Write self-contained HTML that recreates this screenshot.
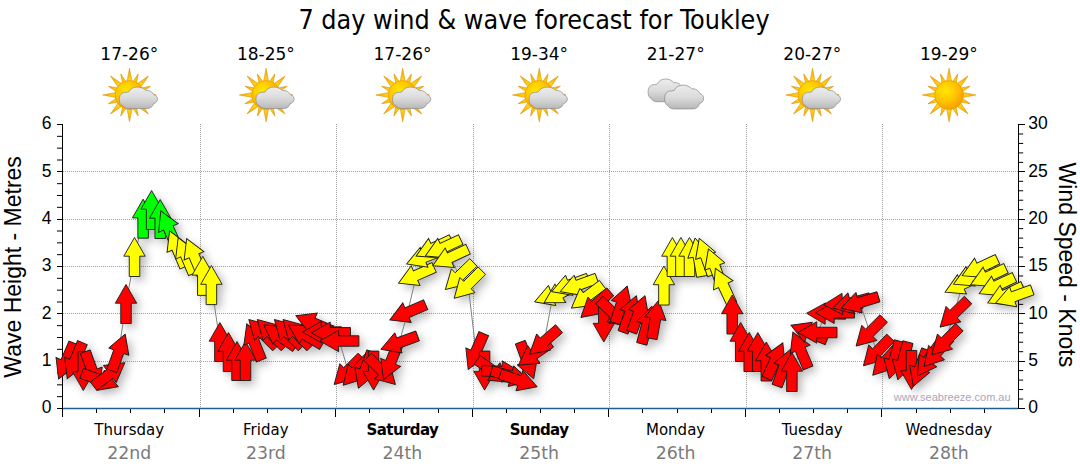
<!DOCTYPE html><html><head><meta charset="utf-8"><title>7 day wind &amp; wave forecast for Toukley</title><style>
html,body{margin:0;padding:0;background:#fff;}body{width:1080px;height:475px;overflow:hidden;position:relative;}svg{display:block;position:absolute;left:0;top:0;}.t{font-family:"DejaVu Sans Condensed","DejaVu Sans",sans-serif;}.a{font-family:"Liberation Sans",Arial,sans-serif;}.v{font-family:"DejaVu Sans",Verdana,sans-serif;}
</style></head><body>
<svg width="1080" height="475" viewBox="0 0 1080 475">
<defs>
<filter id="sh" x="-20%" y="-20%" width="140%" height="140%"><feGaussianBlur in="SourceAlpha" stdDeviation="5"/><feOffset dx="4" dy="4" result="o"/><feComponentTransfer><feFuncA type="linear" slope="0.3"/></feComponentTransfer></filter>
<radialGradient id="sunG" cx="0.38" cy="0.35" r="0.75"><stop offset="0" stop-color="#ffe800"/><stop offset="0.5" stop-color="#ffc400"/><stop offset="1" stop-color="#f39400"/></radialGradient>
<linearGradient id="rayG" x1="0" y1="0" x2="0" y2="1"><stop offset="0" stop-color="#f4a400"/><stop offset="0.6" stop-color="#ffc810"/><stop offset="1" stop-color="#ffdc30"/></linearGradient>
<linearGradient id="cloudG" x1="0" y1="0" x2="0" y2="1"><stop offset="0" stop-color="#ededed"/><stop offset="0.5" stop-color="#dcdcdc"/><stop offset="1" stop-color="#b8b8b8"/></linearGradient>
<path id="arr" d="M0,-19.5L10.7,-0.8L5.25,-0.8L5.25,19.5L-5.25,19.5L-5.25,-0.8L-10.7,-0.8Z"/>

<g id="sun"><g fill="url(#rayG)" stroke="#d89200" stroke-width="0.55" stroke-linejoin="round"><path d="M-2.9,-11.5 L0,-26.8 L2.9,-11.5Z" transform="rotate(0.0)"/><path d="M-2.4,-11.5 L0,-22.8 L2.4,-11.5Z" transform="rotate(22.5)"/><path d="M-2.9,-11.5 L0,-26.8 L2.9,-11.5Z" transform="rotate(45.0)"/><path d="M-2.4,-11.5 L0,-22.8 L2.4,-11.5Z" transform="rotate(67.5)"/><path d="M-2.9,-11.5 L0,-26.8 L2.9,-11.5Z" transform="rotate(90.0)"/><path d="M-2.4,-11.5 L0,-22.8 L2.4,-11.5Z" transform="rotate(112.5)"/><path d="M-2.9,-11.5 L0,-26.8 L2.9,-11.5Z" transform="rotate(135.0)"/><path d="M-2.4,-11.5 L0,-22.8 L2.4,-11.5Z" transform="rotate(157.5)"/><path d="M-2.9,-11.5 L0,-26.8 L2.9,-11.5Z" transform="rotate(180.0)"/><path d="M-2.4,-11.5 L0,-22.8 L2.4,-11.5Z" transform="rotate(202.5)"/><path d="M-2.9,-11.5 L0,-26.8 L2.9,-11.5Z" transform="rotate(225.0)"/><path d="M-2.4,-11.5 L0,-22.8 L2.4,-11.5Z" transform="rotate(247.5)"/><path d="M-2.9,-11.5 L0,-26.8 L2.9,-11.5Z" transform="rotate(270.0)"/><path d="M-2.4,-11.5 L0,-22.8 L2.4,-11.5Z" transform="rotate(292.5)"/><path d="M-2.9,-11.5 L0,-26.8 L2.9,-11.5Z" transform="rotate(315.0)"/><path d="M-2.4,-11.5 L0,-22.8 L2.4,-11.5Z" transform="rotate(337.5)"/></g><circle r="14.4" fill="url(#sunG)" stroke="#e89c00" stroke-width="0.7"/></g>
<path id="cloud" d="M0,15.1 C-0.3,12 0.2,9.6 1.5,8 C2.6,6.5 4.5,5.8 6.8,5.8 C7.8,5.8 8.8,5.6 9.5,5.2 C11,1.8 14.5,0 18.2,0 C22,0 25.3,1.6 27,3.8 C30.5,3.2 34,5.4 35.2,8.4 C37.6,9 39.2,11.5 38.9,13.8 C38.6,16.2 36.8,18 34.8,18.4 C34.2,21.5 31.5,23.8 28.3,23.8 L9.5,23.8 C6.5,23.8 4.2,22.5 3.5,20.6 C1.3,19.8 0.1,17.6 0,15.1 Z" fill="url(#cloudG)" stroke="#8c8c8c" stroke-width="0.75"/>
</defs>
<text class="t" x="534" y="29.0" font-size="26.7" text-anchor="middle" fill="#000" textLength="471.2" lengthAdjust="spacingAndGlyphs">7 day wind &amp; wave forecast for Toukley</text>
<text class="v" x="129.3" y="59.7" font-size="17" text-anchor="middle" fill="#000">17-26°</text>
<use href="#sun" transform="translate(129.5,95)"/>
<use href="#cloud" transform="translate(119.4,87.1) scale(0.98,0.9)"/>
<text class="v" x="129.2" y="434.8" font-size="15" text-anchor="middle" fill="#000">Thursday</text>
<text class="v" x="129.2" y="458.6" font-size="17.3" text-anchor="middle" fill="#7a7a7a">22nd</text>
<text class="v" x="265.9" y="59.7" font-size="17" text-anchor="middle" fill="#000">18-25°</text>
<use href="#sun" transform="translate(266.1,95)"/>
<use href="#cloud" transform="translate(256,87.1) scale(0.98,0.9)"/>
<text class="v" x="265.8" y="434.8" font-size="15" text-anchor="middle" fill="#000">Friday</text>
<text class="v" x="265.8" y="458.6" font-size="17.3" text-anchor="middle" fill="#7a7a7a">23rd</text>
<text class="v" x="402.5" y="59.7" font-size="17" text-anchor="middle" fill="#000">17-26°</text>
<use href="#sun" transform="translate(402.7,95)"/>
<use href="#cloud" transform="translate(392.6,87.1) scale(0.98,0.9)"/>
<text class="v" x="402.4" y="434.8" font-size="15" text-anchor="middle" fill="#000" font-weight="bold" letter-spacing="-0.6">Saturday</text>
<text class="v" x="402.4" y="458.6" font-size="17.3" text-anchor="middle" fill="#7a7a7a">24th</text>
<text class="v" x="539.1" y="59.7" font-size="17" text-anchor="middle" fill="#000">19-34°</text>
<use href="#sun" transform="translate(539.3,95)"/>
<use href="#cloud" transform="translate(529.2,87.1) scale(0.98,0.9)"/>
<text class="v" x="539" y="434.8" font-size="15" text-anchor="middle" fill="#000" font-weight="bold" letter-spacing="-0.6">Sunday</text>
<text class="v" x="539" y="458.6" font-size="17.3" text-anchor="middle" fill="#7a7a7a">25th</text>
<text class="v" x="675.7" y="59.7" font-size="17" text-anchor="middle" fill="#000">21-27°</text>
<use href="#cloud" transform="translate(648.2,79) scale(0.95,0.955)"/>
<use href="#cloud" transform="translate(664.7,85.1)"/>
<text class="v" x="675.6" y="434.8" font-size="15" text-anchor="middle" fill="#000">Monday</text>
<text class="v" x="675.6" y="458.6" font-size="17.3" text-anchor="middle" fill="#7a7a7a">26th</text>
<text class="v" x="812.3" y="59.7" font-size="17" text-anchor="middle" fill="#000">20-27°</text>
<use href="#sun" transform="translate(812.5,95)"/>
<use href="#cloud" transform="translate(802.4,87.1) scale(0.98,0.9)"/>
<text class="v" x="812.2" y="434.8" font-size="15" text-anchor="middle" fill="#000">Tuesday</text>
<text class="v" x="812.2" y="458.6" font-size="17.3" text-anchor="middle" fill="#7a7a7a">27th</text>
<text class="v" x="948.9" y="59.7" font-size="17" text-anchor="middle" fill="#000">19-29°</text>
<use href="#sun" transform="translate(949.1,95)"/>
<text class="v" x="948.8" y="434.8" font-size="15" text-anchor="middle" fill="#000">Wednesday</text>
<text class="v" x="948.8" y="458.6" font-size="17.3" text-anchor="middle" fill="#7a7a7a">28th</text>
<g stroke="#a0a0a0" stroke-width="1" stroke-dasharray="1 1" shape-rendering="crispEdges"><line x1="63" y1="361.5" x2="1018" y2="361.5"/><line x1="63" y1="313.5" x2="1018" y2="313.5"/><line x1="63" y1="266.5" x2="1018" y2="266.5"/><line x1="63" y1="219.5" x2="1018" y2="219.5"/><line x1="63" y1="171.5" x2="1018" y2="171.5"/><line x1="200.5" y1="124" x2="200.5" y2="408"/><line x1="336.5" y1="124" x2="336.5" y2="408"/><line x1="473.5" y1="124" x2="473.5" y2="408"/><line x1="609.5" y1="124" x2="609.5" y2="408"/><line x1="746.5" y1="124" x2="746.5" y2="408"/><line x1="882.5" y1="124" x2="882.5" y2="408"/></g>
<text class="a" x="1010.6" y="400.6" font-size="11" text-anchor="end" fill="#a9a6b8">www.seabreeze.com.au</text>
<g stroke="#000" stroke-width="1" shape-rendering="crispEdges"><line x1="62.5" y1="124" x2="62.5" y2="417"/><line x1="1018.5" y1="124" x2="1018.5" y2="408.5"/><line x1="57" y1="408.5" x2="62" y2="408.5"/><line x1="57" y1="361.5" x2="62" y2="361.5"/><line x1="57" y1="313.5" x2="62" y2="313.5"/><line x1="57" y1="266.5" x2="62" y2="266.5"/><line x1="57" y1="219.5" x2="62" y2="219.5"/><line x1="57" y1="171.5" x2="62" y2="171.5"/><line x1="57" y1="124.5" x2="62" y2="124.5"/><line x1="1019" y1="408.5" x2="1024.5" y2="408.5"/><line x1="1019" y1="361.5" x2="1024.5" y2="361.5"/><line x1="1019" y1="313.5" x2="1024.5" y2="313.5"/><line x1="1019" y1="266.5" x2="1024.5" y2="266.5"/><line x1="1019" y1="219.5" x2="1024.5" y2="219.5"/><line x1="1019" y1="171.5" x2="1024.5" y2="171.5"/><line x1="1019" y1="124.5" x2="1024.5" y2="124.5"/><line x1="96.5" y1="408" x2="96.5" y2="413"/><line x1="130.5" y1="408" x2="130.5" y2="413"/><line x1="164.5" y1="408" x2="164.5" y2="413"/><line x1="199.5" y1="408" x2="199.5" y2="417"/><line x1="233.5" y1="408" x2="233.5" y2="413"/><line x1="267.5" y1="408" x2="267.5" y2="413"/><line x1="301.5" y1="408" x2="301.5" y2="413"/><line x1="335.5" y1="408" x2="335.5" y2="417"/><line x1="369.5" y1="408" x2="369.5" y2="413"/><line x1="403.5" y1="408" x2="403.5" y2="413"/><line x1="438.5" y1="408" x2="438.5" y2="413"/><line x1="472.5" y1="408" x2="472.5" y2="417"/><line x1="506.5" y1="408" x2="506.5" y2="413"/><line x1="540.5" y1="408" x2="540.5" y2="413"/><line x1="574.5" y1="408" x2="574.5" y2="413"/><line x1="608.5" y1="408" x2="608.5" y2="417"/><line x1="642.5" y1="408" x2="642.5" y2="413"/><line x1="677.5" y1="408" x2="677.5" y2="413"/><line x1="711.5" y1="408" x2="711.5" y2="413"/><line x1="745.5" y1="408" x2="745.5" y2="417"/><line x1="779.5" y1="408" x2="779.5" y2="413"/><line x1="813.5" y1="408" x2="813.5" y2="413"/><line x1="847.5" y1="408" x2="847.5" y2="413"/><line x1="881.5" y1="408" x2="881.5" y2="417"/><line x1="916.5" y1="408" x2="916.5" y2="413"/><line x1="950.5" y1="408" x2="950.5" y2="413"/><line x1="984.5" y1="408" x2="984.5" y2="413"/></g>
<g stroke="#000" stroke-width="1"><line x1="57" y1="396.67" x2="62" y2="396.67"/><line x1="57" y1="384.83" x2="62" y2="384.83"/><line x1="57" y1="373" x2="62" y2="373"/><line x1="57" y1="349.33" x2="62" y2="349.33"/><line x1="57" y1="337.5" x2="62" y2="337.5"/><line x1="57" y1="325.67" x2="62" y2="325.67"/><line x1="57" y1="302" x2="62" y2="302"/><line x1="57" y1="290.17" x2="62" y2="290.17"/><line x1="57" y1="278.33" x2="62" y2="278.33"/><line x1="57" y1="254.67" x2="62" y2="254.67"/><line x1="57" y1="242.83" x2="62" y2="242.83"/><line x1="57" y1="231" x2="62" y2="231"/><line x1="57" y1="207.33" x2="62" y2="207.33"/><line x1="57" y1="195.5" x2="62" y2="195.5"/><line x1="57" y1="183.67" x2="62" y2="183.67"/><line x1="57" y1="160" x2="62" y2="160"/><line x1="57" y1="148.17" x2="62" y2="148.17"/><line x1="57" y1="136.33" x2="62" y2="136.33"/><line x1="1019" y1="399.03" x2="1023.2" y2="399.03"/><line x1="1019" y1="389.57" x2="1023.2" y2="389.57"/><line x1="1019" y1="380.1" x2="1023.2" y2="380.1"/><line x1="1019" y1="370.63" x2="1023.2" y2="370.63"/><line x1="1019" y1="351.7" x2="1023.2" y2="351.7"/><line x1="1019" y1="342.23" x2="1023.2" y2="342.23"/><line x1="1019" y1="332.77" x2="1023.2" y2="332.77"/><line x1="1019" y1="323.3" x2="1023.2" y2="323.3"/><line x1="1019" y1="304.37" x2="1023.2" y2="304.37"/><line x1="1019" y1="294.9" x2="1023.2" y2="294.9"/><line x1="1019" y1="285.43" x2="1023.2" y2="285.43"/><line x1="1019" y1="275.97" x2="1023.2" y2="275.97"/><line x1="1019" y1="257.03" x2="1023.2" y2="257.03"/><line x1="1019" y1="247.57" x2="1023.2" y2="247.57"/><line x1="1019" y1="238.1" x2="1023.2" y2="238.1"/><line x1="1019" y1="228.63" x2="1023.2" y2="228.63"/><line x1="1019" y1="209.7" x2="1023.2" y2="209.7"/><line x1="1019" y1="200.23" x2="1023.2" y2="200.23"/><line x1="1019" y1="190.77" x2="1023.2" y2="190.77"/><line x1="1019" y1="181.3" x2="1023.2" y2="181.3"/><line x1="1019" y1="162.37" x2="1023.2" y2="162.37"/><line x1="1019" y1="152.9" x2="1023.2" y2="152.9"/><line x1="1019" y1="143.43" x2="1023.2" y2="143.43"/><line x1="1019" y1="133.97" x2="1023.2" y2="133.97"/></g>
<line x1="63" y1="408.5" x2="1018" y2="408.5" stroke="#1f5f8f" stroke-width="1.3"/>
<text class="a" x="51.5" y="413.2" font-size="17.5" text-anchor="end">0</text>
<text class="a" x="51.5" y="365.87" font-size="17.5" text-anchor="end">1</text>
<text class="a" x="51.5" y="318.53" font-size="17.5" text-anchor="end">2</text>
<text class="a" x="51.5" y="271.2" font-size="17.5" text-anchor="end">3</text>
<text class="a" x="51.5" y="223.87" font-size="17.5" text-anchor="end">4</text>
<text class="a" x="51.5" y="176.53" font-size="17.5" text-anchor="end">5</text>
<text class="a" x="51.5" y="129.2" font-size="17.5" text-anchor="end">6</text>
<text class="a" x="1028.2" y="413.2" font-size="17.5">0</text>
<text class="a" x="1028.2" y="365.87" font-size="17.5">5</text>
<text class="a" x="1028.2" y="318.53" font-size="17.5">10</text>
<text class="a" x="1028.2" y="271.2" font-size="17.5">15</text>
<text class="a" x="1028.2" y="223.87" font-size="17.5">20</text>
<text class="a" x="1028.2" y="176.53" font-size="17.5">25</text>
<text class="a" x="1028.2" y="129.2" font-size="17.5">30</text>
<text class="a" transform="translate(20.8,377.7) rotate(-90)" font-size="23">Wave Height - Metres</text>
<text class="a" transform="translate(1059.4,162.6) rotate(90)" font-size="23">Wind Speed - Knots</text>
<g filter="url(#sh)"><use href="#arr" fill="#ff0000" transform="translate(66.2,361) rotate(203)"/><use href="#arr" fill="#ff0000" transform="translate(74.8,360.6) rotate(203)"/><use href="#arr" fill="#ff0000" transform="translate(83.3,371) rotate(180)"/><use href="#arr" fill="#ff0000" transform="translate(91.9,370) rotate(160)"/><use href="#arr" fill="#ff0000" transform="translate(100,380) rotate(110)"/><use href="#arr" fill="#ff0000" transform="translate(109.2,374.5) rotate(53)"/><use href="#arr" fill="#ff0000" transform="translate(118.5,352.4) rotate(20)"/><use href="#arr" fill="#ff0000" transform="translate(126,304) rotate(0)"/><use href="#arr" fill="#ffff00" transform="translate(134.5,257) rotate(0)"/><use href="#arr" fill="#00ff00" transform="translate(143.1,218.7) rotate(0)"/><use href="#arr" fill="#00ff00" transform="translate(151.6,210) rotate(0)"/><use href="#arr" fill="#00ff00" transform="translate(160.2,219) rotate(0)"/><use href="#arr" fill="#00ff00" transform="translate(168.7,228.7) rotate(336)"/><use href="#arr" fill="#ffff00" transform="translate(177.2,248.9) rotate(337)"/><use href="#arr" fill="#ffff00" transform="translate(185.8,255.6) rotate(337)"/><use href="#arr" fill="#ffff00" transform="translate(194.3,256.5) rotate(337)"/><use href="#arr" fill="#ffff00" transform="translate(202.8,275.9) rotate(0)"/><use href="#arr" fill="#ffff00" transform="translate(211.4,285.1) rotate(0)"/><use href="#arr" fill="#ff0000" transform="translate(219.9,342) rotate(0)"/><use href="#arr" fill="#ff0000" transform="translate(228.5,352.1) rotate(0)"/><use href="#arr" fill="#ff0000" transform="translate(237,361) rotate(0)"/><use href="#arr" fill="#ff0000" transform="translate(245.5,361) rotate(0)"/><use href="#arr" fill="#ff0000" transform="translate(254.1,341.9) rotate(338)"/><use href="#arr" fill="#ff0000" transform="translate(262.6,333.3) rotate(315)"/><use href="#arr" fill="#ff0000" transform="translate(271.1,333.3) rotate(315)"/><use href="#arr" fill="#ff0000" transform="translate(279.7,336) rotate(305)"/><use href="#arr" fill="#ff0000" transform="translate(288.2,333.3) rotate(315)"/><use href="#arr" fill="#ff0000" transform="translate(296.8,333.3) rotate(315)"/><use href="#arr" fill="#ff0000" transform="translate(305.3,335) rotate(300)"/><use href="#arr" fill="#ff0000" transform="translate(313.8,323.3) rotate(293)"/><use href="#arr" fill="#ff0000" transform="translate(322.1,332.1) rotate(270)"/><use href="#arr" fill="#ff0000" transform="translate(331,332.8) rotate(270)"/><use href="#arr" fill="#ff0000" transform="translate(339.4,341) rotate(270)"/><use href="#arr" fill="#ff0000" transform="translate(348,370.7) rotate(225)"/><use href="#arr" fill="#ff0000" transform="translate(356.5,371) rotate(223)"/><use href="#arr" fill="#ff0000" transform="translate(365.1,370) rotate(200)"/><use href="#arr" fill="#ff0000" transform="translate(373.6,370.6) rotate(180)"/><use href="#arr" fill="#ff0000" transform="translate(381.6,370.7) rotate(135)"/><use href="#arr" fill="#ff0000" transform="translate(390.9,361.6) rotate(202)"/><use href="#arr" fill="#ff0000" transform="translate(399.2,342.6) rotate(250)"/><use href="#arr" fill="#ff0000" transform="translate(407.7,312.4) rotate(247)"/><use href="#arr" fill="#ffff00" transform="translate(416.3,275.3) rotate(246)"/><use href="#arr" fill="#ffff00" transform="translate(424.8,257) rotate(249)"/><use href="#arr" fill="#ffff00" transform="translate(433.8,247.8) rotate(245)"/><use href="#arr" fill="#ffff00" transform="translate(443,247.8) rotate(245)"/><use href="#arr" fill="#ffff00" transform="translate(450.4,257.4) rotate(245)"/><use href="#arr" fill="#ffff00" transform="translate(459.4,276) rotate(226)"/><use href="#arr" fill="#ffff00" transform="translate(468,284.5) rotate(225)"/><use href="#arr" fill="#ff0000" transform="translate(476,351.6) rotate(203.5)"/><use href="#arr" fill="#ff0000" transform="translate(484.6,370.6) rotate(180)"/><use href="#arr" fill="#ff0000" transform="translate(493.1,371) rotate(125)"/><use href="#arr" fill="#ff0000" transform="translate(501.2,371.5) rotate(92)"/><use href="#arr" fill="#ff0000" transform="translate(510.2,376) rotate(105)"/><use href="#arr" fill="#ff0000" transform="translate(518.7,380.4) rotate(109)"/><use href="#arr" fill="#ff0000" transform="translate(527,360.5) rotate(160)"/><use href="#arr" fill="#ff0000" transform="translate(534.5,354) rotate(235)"/><use href="#arr" fill="#ff0000" transform="translate(544.3,341.5) rotate(229)"/><use href="#arr" fill="#ffff00" transform="translate(552.9,295.2) rotate(250)"/><use href="#arr" fill="#ffff00" transform="translate(561,293) rotate(240)"/><use href="#arr" fill="#ffff00" transform="translate(570,285) rotate(250)"/><use href="#arr" fill="#ffff00" transform="translate(578.5,285) rotate(250)"/><use href="#arr" fill="#ffff00" transform="translate(587,296.4) rotate(233)"/><use href="#arr" fill="#ff0000" transform="translate(595.6,304.7) rotate(229)"/><use href="#arr" fill="#ff0000" transform="translate(603.8,322.5) rotate(180)"/><use href="#arr" fill="#ff0000" transform="translate(613.5,313.4) rotate(133)"/><use href="#arr" fill="#ff0000" transform="translate(621.2,304.5) rotate(18)"/><use href="#arr" fill="#ff0000" transform="translate(629.7,314) rotate(20)"/><use href="#arr" fill="#ff0000" transform="translate(638.3,314) rotate(20)"/><use href="#arr" fill="#ff0000" transform="translate(646.8,325) rotate(15)"/><use href="#arr" fill="#ff0000" transform="translate(655.3,319.5) rotate(10)"/><use href="#arr" fill="#ffff00" transform="translate(663.9,285.5) rotate(0)"/><use href="#arr" fill="#ffff00" transform="translate(672.4,257) rotate(0)"/><use href="#arr" fill="#ffff00" transform="translate(680.9,257) rotate(0)"/><use href="#arr" fill="#ffff00" transform="translate(689.5,257) rotate(0)"/><use href="#arr" fill="#ffff00" transform="translate(698.5,257.2) rotate(350)"/><use href="#arr" fill="#ffff00" transform="translate(705.9,256.6) rotate(340)"/><use href="#arr" fill="#ffff00" transform="translate(715.1,267.2) rotate(340)"/><use href="#arr" fill="#ffff00" transform="translate(723.6,286) rotate(335)"/><use href="#arr" fill="#ff0000" transform="translate(732.2,314.5) rotate(0)"/><use href="#arr" fill="#ff0000" transform="translate(740.7,342) rotate(0)"/><use href="#arr" fill="#ff0000" transform="translate(749.2,352) rotate(0)"/><use href="#arr" fill="#ff0000" transform="translate(757.8,352) rotate(0)"/><use href="#arr" fill="#ff0000" transform="translate(766.3,361.5) rotate(0)"/><use href="#arr" fill="#ff0000" transform="translate(774.9,360.6) rotate(24)"/><use href="#arr" fill="#ff0000" transform="translate(783.7,367.7) rotate(20)"/><use href="#arr" fill="#ff0000" transform="translate(791.9,372) rotate(0)"/><use href="#arr" fill="#ff0000" transform="translate(800.5,350) rotate(337)"/><use href="#arr" fill="#ff0000" transform="translate(809,332.5) rotate(292)"/><use href="#arr" fill="#ff0000" transform="translate(817.5,332.5) rotate(270)"/><use href="#arr" fill="#ff0000" transform="translate(826.1,313.6) rotate(271)"/><use href="#arr" fill="#ff0000" transform="translate(835,312.8) rotate(270)"/><use href="#arr" fill="#ff0000" transform="translate(843.2,304) rotate(268)"/><use href="#arr" fill="#ff0000" transform="translate(851.5,303) rotate(255)"/><use href="#arr" fill="#ff0000" transform="translate(859.8,302.5) rotate(253)"/><use href="#arr" fill="#ff0000" transform="translate(869.9,332.3) rotate(225)"/><use href="#arr" fill="#ff0000" transform="translate(877,351.8) rotate(224)"/><use href="#arr" fill="#ff0000" transform="translate(885.8,360.8) rotate(222)"/><use href="#arr" fill="#ff0000" transform="translate(894.4,360) rotate(195)"/><use href="#arr" fill="#ff0000" transform="translate(902.9,361) rotate(195)"/><use href="#arr" fill="#ff0000" transform="translate(911.5,370) rotate(180)"/><use href="#arr" fill="#ff0000" transform="translate(920,368) rotate(200)"/><use href="#arr" fill="#ff0000" transform="translate(928.5,360) rotate(215)"/><use href="#arr" fill="#ff0000" transform="translate(937.1,352) rotate(222)"/><use href="#arr" fill="#ff0000" transform="translate(945.6,341) rotate(225)"/><use href="#arr" fill="#ff0000" transform="translate(954.1,313.6) rotate(226)"/><use href="#arr" fill="#ffff00" transform="translate(962.7,284) rotate(245)"/><use href="#arr" fill="#ffff00" transform="translate(971.2,276) rotate(245)"/><use href="#arr" fill="#ffff00" transform="translate(979.8,267.5) rotate(245)"/><use href="#arr" fill="#ffff00" transform="translate(988.3,276.5) rotate(245)"/><use href="#arr" fill="#ffff00" transform="translate(996.8,285.5) rotate(245)"/><use href="#arr" fill="#ffff00" transform="translate(1005.4,294.7) rotate(245)"/><use href="#arr" fill="#ffff00" transform="translate(1013.9,296.5) rotate(250)"/></g>
<polyline points="66.2,361 74.8,360.6 83.3,371 91.9,370 100,380 109.2,374.5 118.5,352.4 126,304 134.5,257 143.1,218.7 151.6,210 160.2,219 168.7,228.7 177.2,248.9 185.8,255.6 194.3,256.5 202.8,275.9 211.4,285.1 219.9,342 228.5,352.1 237,361 245.5,361 254.1,341.9 262.6,333.3 271.1,333.3 279.7,336 288.2,333.3 296.8,333.3 305.3,335 313.8,323.3 322.1,332.1 331,332.8 339.4,341 348,370.7 356.5,371 365.1,370 373.6,370.6 381.6,370.7 390.9,361.6 399.2,342.6 407.7,312.4 416.3,275.3 424.8,257 433.8,247.8 443,247.8 450.4,257.4 459.4,276 468,284.5 476,351.6 484.6,370.6 493.1,371 501.2,371.5 510.2,376 518.7,380.4 527,360.5 534.5,354 544.3,341.5 552.9,295.2 561,293 570,285 578.5,285 587,296.4 595.6,304.7 603.8,322.5 613.5,313.4 621.2,304.5 629.7,314 638.3,314 646.8,325 655.3,319.5 663.9,285.5 672.4,257 680.9,257 689.5,257 698.5,257.2 705.9,256.6 715.1,267.2 723.6,286 732.2,314.5 740.7,342 749.2,352 757.8,352 766.3,361.5 774.9,360.6 783.7,367.7 791.9,372 800.5,350 809,332.5 817.5,332.5 826.1,313.6 835,312.8 843.2,304 851.5,303 859.8,302.5 869.9,332.3 877,351.8 885.8,360.8 894.4,360 902.9,361 911.5,370 920,368 928.5,360 937.1,352 945.6,341 954.1,313.6 962.7,284 971.2,276 979.8,267.5 988.3,276.5 996.8,285.5 1005.4,294.7 1013.9,296.5" fill="none" stroke="#808080" stroke-width="1"/>
<g stroke="#1a1a1a" stroke-width="0.9" stroke-linejoin="miter"><use href="#arr" fill="#ff0000" transform="translate(66.2,361) rotate(203)"/><use href="#arr" fill="#ff0000" transform="translate(74.8,360.6) rotate(203)"/><use href="#arr" fill="#ff0000" transform="translate(83.3,371) rotate(180)"/><use href="#arr" fill="#ff0000" transform="translate(91.9,370) rotate(160)"/><use href="#arr" fill="#ff0000" transform="translate(100,380) rotate(110)"/><use href="#arr" fill="#ff0000" transform="translate(109.2,374.5) rotate(53)"/><use href="#arr" fill="#ff0000" transform="translate(118.5,352.4) rotate(20)"/><use href="#arr" fill="#ff0000" transform="translate(126,304) rotate(0)"/><use href="#arr" fill="#ffff00" transform="translate(134.5,257) rotate(0)"/><use href="#arr" fill="#00ff00" transform="translate(143.1,218.7) rotate(0)"/><use href="#arr" fill="#00ff00" transform="translate(151.6,210) rotate(0)"/><use href="#arr" fill="#00ff00" transform="translate(160.2,219) rotate(0)"/><use href="#arr" fill="#00ff00" transform="translate(168.7,228.7) rotate(336)"/><use href="#arr" fill="#ffff00" transform="translate(177.2,248.9) rotate(337)"/><use href="#arr" fill="#ffff00" transform="translate(185.8,255.6) rotate(337)"/><use href="#arr" fill="#ffff00" transform="translate(194.3,256.5) rotate(337)"/><use href="#arr" fill="#ffff00" transform="translate(202.8,275.9) rotate(0)"/><use href="#arr" fill="#ffff00" transform="translate(211.4,285.1) rotate(0)"/><use href="#arr" fill="#ff0000" transform="translate(219.9,342) rotate(0)"/><use href="#arr" fill="#ff0000" transform="translate(228.5,352.1) rotate(0)"/><use href="#arr" fill="#ff0000" transform="translate(237,361) rotate(0)"/><use href="#arr" fill="#ff0000" transform="translate(245.5,361) rotate(0)"/><use href="#arr" fill="#ff0000" transform="translate(254.1,341.9) rotate(338)"/><use href="#arr" fill="#ff0000" transform="translate(262.6,333.3) rotate(315)"/><use href="#arr" fill="#ff0000" transform="translate(271.1,333.3) rotate(315)"/><use href="#arr" fill="#ff0000" transform="translate(279.7,336) rotate(305)"/><use href="#arr" fill="#ff0000" transform="translate(288.2,333.3) rotate(315)"/><use href="#arr" fill="#ff0000" transform="translate(296.8,333.3) rotate(315)"/><use href="#arr" fill="#ff0000" transform="translate(305.3,335) rotate(300)"/><use href="#arr" fill="#ff0000" transform="translate(313.8,323.3) rotate(293)"/><use href="#arr" fill="#ff0000" transform="translate(322.1,332.1) rotate(270)"/><use href="#arr" fill="#ff0000" transform="translate(331,332.8) rotate(270)"/><use href="#arr" fill="#ff0000" transform="translate(339.4,341) rotate(270)"/><use href="#arr" fill="#ff0000" transform="translate(348,370.7) rotate(225)"/><use href="#arr" fill="#ff0000" transform="translate(356.5,371) rotate(223)"/><use href="#arr" fill="#ff0000" transform="translate(365.1,370) rotate(200)"/><use href="#arr" fill="#ff0000" transform="translate(373.6,370.6) rotate(180)"/><use href="#arr" fill="#ff0000" transform="translate(381.6,370.7) rotate(135)"/><use href="#arr" fill="#ff0000" transform="translate(390.9,361.6) rotate(202)"/><use href="#arr" fill="#ff0000" transform="translate(399.2,342.6) rotate(250)"/><use href="#arr" fill="#ff0000" transform="translate(407.7,312.4) rotate(247)"/><use href="#arr" fill="#ffff00" transform="translate(416.3,275.3) rotate(246)"/><use href="#arr" fill="#ffff00" transform="translate(424.8,257) rotate(249)"/><use href="#arr" fill="#ffff00" transform="translate(433.8,247.8) rotate(245)"/><use href="#arr" fill="#ffff00" transform="translate(443,247.8) rotate(245)"/><use href="#arr" fill="#ffff00" transform="translate(450.4,257.4) rotate(245)"/><use href="#arr" fill="#ffff00" transform="translate(459.4,276) rotate(226)"/><use href="#arr" fill="#ffff00" transform="translate(468,284.5) rotate(225)"/><use href="#arr" fill="#ff0000" transform="translate(476,351.6) rotate(203.5)"/><use href="#arr" fill="#ff0000" transform="translate(484.6,370.6) rotate(180)"/><use href="#arr" fill="#ff0000" transform="translate(493.1,371) rotate(125)"/><use href="#arr" fill="#ff0000" transform="translate(501.2,371.5) rotate(92)"/><use href="#arr" fill="#ff0000" transform="translate(510.2,376) rotate(105)"/><use href="#arr" fill="#ff0000" transform="translate(518.7,380.4) rotate(109)"/><use href="#arr" fill="#ff0000" transform="translate(527,360.5) rotate(160)"/><use href="#arr" fill="#ff0000" transform="translate(534.5,354) rotate(235)"/><use href="#arr" fill="#ff0000" transform="translate(544.3,341.5) rotate(229)"/><use href="#arr" fill="#ffff00" transform="translate(552.9,295.2) rotate(250)"/><use href="#arr" fill="#ffff00" transform="translate(561,293) rotate(240)"/><use href="#arr" fill="#ffff00" transform="translate(570,285) rotate(250)"/><use href="#arr" fill="#ffff00" transform="translate(578.5,285) rotate(250)"/><use href="#arr" fill="#ffff00" transform="translate(587,296.4) rotate(233)"/><use href="#arr" fill="#ff0000" transform="translate(595.6,304.7) rotate(229)"/><use href="#arr" fill="#ff0000" transform="translate(603.8,322.5) rotate(180)"/><use href="#arr" fill="#ff0000" transform="translate(613.5,313.4) rotate(133)"/><use href="#arr" fill="#ff0000" transform="translate(621.2,304.5) rotate(18)"/><use href="#arr" fill="#ff0000" transform="translate(629.7,314) rotate(20)"/><use href="#arr" fill="#ff0000" transform="translate(638.3,314) rotate(20)"/><use href="#arr" fill="#ff0000" transform="translate(646.8,325) rotate(15)"/><use href="#arr" fill="#ff0000" transform="translate(655.3,319.5) rotate(10)"/><use href="#arr" fill="#ffff00" transform="translate(663.9,285.5) rotate(0)"/><use href="#arr" fill="#ffff00" transform="translate(672.4,257) rotate(0)"/><use href="#arr" fill="#ffff00" transform="translate(680.9,257) rotate(0)"/><use href="#arr" fill="#ffff00" transform="translate(689.5,257) rotate(0)"/><use href="#arr" fill="#ffff00" transform="translate(698.5,257.2) rotate(350)"/><use href="#arr" fill="#ffff00" transform="translate(705.9,256.6) rotate(340)"/><use href="#arr" fill="#ffff00" transform="translate(715.1,267.2) rotate(340)"/><use href="#arr" fill="#ffff00" transform="translate(723.6,286) rotate(335)"/><use href="#arr" fill="#ff0000" transform="translate(732.2,314.5) rotate(0)"/><use href="#arr" fill="#ff0000" transform="translate(740.7,342) rotate(0)"/><use href="#arr" fill="#ff0000" transform="translate(749.2,352) rotate(0)"/><use href="#arr" fill="#ff0000" transform="translate(757.8,352) rotate(0)"/><use href="#arr" fill="#ff0000" transform="translate(766.3,361.5) rotate(0)"/><use href="#arr" fill="#ff0000" transform="translate(774.9,360.6) rotate(24)"/><use href="#arr" fill="#ff0000" transform="translate(783.7,367.7) rotate(20)"/><use href="#arr" fill="#ff0000" transform="translate(791.9,372) rotate(0)"/><use href="#arr" fill="#ff0000" transform="translate(800.5,350) rotate(337)"/><use href="#arr" fill="#ff0000" transform="translate(809,332.5) rotate(292)"/><use href="#arr" fill="#ff0000" transform="translate(817.5,332.5) rotate(270)"/><use href="#arr" fill="#ff0000" transform="translate(826.1,313.6) rotate(271)"/><use href="#arr" fill="#ff0000" transform="translate(835,312.8) rotate(270)"/><use href="#arr" fill="#ff0000" transform="translate(843.2,304) rotate(268)"/><use href="#arr" fill="#ff0000" transform="translate(851.5,303) rotate(255)"/><use href="#arr" fill="#ff0000" transform="translate(859.8,302.5) rotate(253)"/><use href="#arr" fill="#ff0000" transform="translate(869.9,332.3) rotate(225)"/><use href="#arr" fill="#ff0000" transform="translate(877,351.8) rotate(224)"/><use href="#arr" fill="#ff0000" transform="translate(885.8,360.8) rotate(222)"/><use href="#arr" fill="#ff0000" transform="translate(894.4,360) rotate(195)"/><use href="#arr" fill="#ff0000" transform="translate(902.9,361) rotate(195)"/><use href="#arr" fill="#ff0000" transform="translate(911.5,370) rotate(180)"/><use href="#arr" fill="#ff0000" transform="translate(920,368) rotate(200)"/><use href="#arr" fill="#ff0000" transform="translate(928.5,360) rotate(215)"/><use href="#arr" fill="#ff0000" transform="translate(937.1,352) rotate(222)"/><use href="#arr" fill="#ff0000" transform="translate(945.6,341) rotate(225)"/><use href="#arr" fill="#ff0000" transform="translate(954.1,313.6) rotate(226)"/><use href="#arr" fill="#ffff00" transform="translate(962.7,284) rotate(245)"/><use href="#arr" fill="#ffff00" transform="translate(971.2,276) rotate(245)"/><use href="#arr" fill="#ffff00" transform="translate(979.8,267.5) rotate(245)"/><use href="#arr" fill="#ffff00" transform="translate(988.3,276.5) rotate(245)"/><use href="#arr" fill="#ffff00" transform="translate(996.8,285.5) rotate(245)"/><use href="#arr" fill="#ffff00" transform="translate(1005.4,294.7) rotate(245)"/><use href="#arr" fill="#ffff00" transform="translate(1013.9,296.5) rotate(250)"/></g>
</svg></body></html>
